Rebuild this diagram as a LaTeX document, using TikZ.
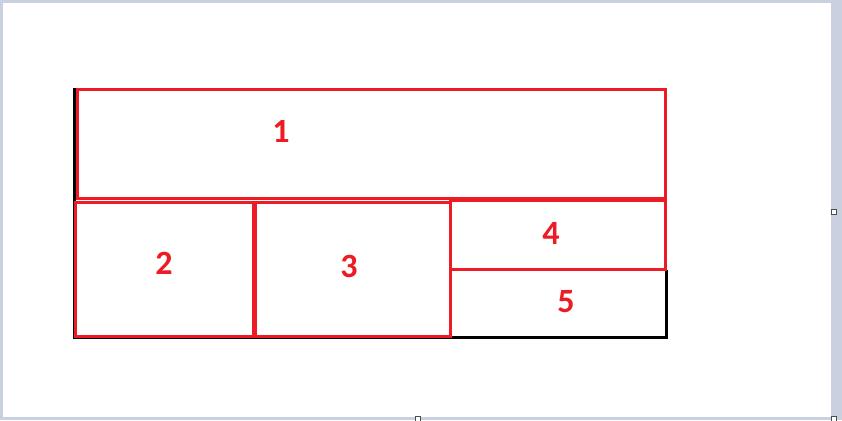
\documentclass[tikz,border=0pt]{standalone}
\usepackage{fontspec}
\setmainfont{Carlito}
\usepackage{xcolor}
\definecolor{boxred}{HTML}{ED1C24}
\definecolor{deskgray}{HTML}{C9D1E1}
\tikzset{
    redbox/.style={draw=boxred, line width=3pt},
    blackbox/.style={draw=black, line width=3pt},
    numlabel/.style={text=boxred, font=\fontsize{34}{40}\selectfont\bfseries, inner sep=0pt},
    handle/.style={draw=black!70, fill=white, line width=0.8pt, minimum size=5pt, inner sep=0pt}
}

\begin{document}
\begin{tikzpicture}[x=1pt, y=-1pt]
 % Page and background
 \fill[deskgray] (0,0) rectangle (842,420);
 \fill[white] (3,3) rectangle (831,417);
 \useasboundingbox (0,0) rectangle (842,420);

% Outer frame
\draw[blackbox] (74.5,88) -- (74.5,337.5) -- (666.5,337.5) -- (666.5,270);

% Region 1
\draw[redbox] (77,89.5) rectangle (665.5,198);
\node[numlabel] (one) at (281,131) {1};

% Region 2
\draw[redbox] (75,202) rectangle (253.5,336);
\node[numlabel] (two) at (164,263) {2};

% Region 3
\draw[redbox] (255,202) rectangle (450.5,336);
\node[numlabel] (three) at (349,266) {3};

% Region 4
\draw[redbox] (450,200.5) rectangle (665,269.5);
\node[numlabel] (four) at (551,233) {4};

% Region 5
\node[numlabel] (five) at (566,302) {5};

% Selection handles
\node[handle] (handleright) at (833.5,211.5) {};
\node[handle] (handlebottom) at (417.5,418.5) {};
\node[handle] (handlecorner) at (833.5,418.5) {};

\end{tikzpicture}
\end{document}
